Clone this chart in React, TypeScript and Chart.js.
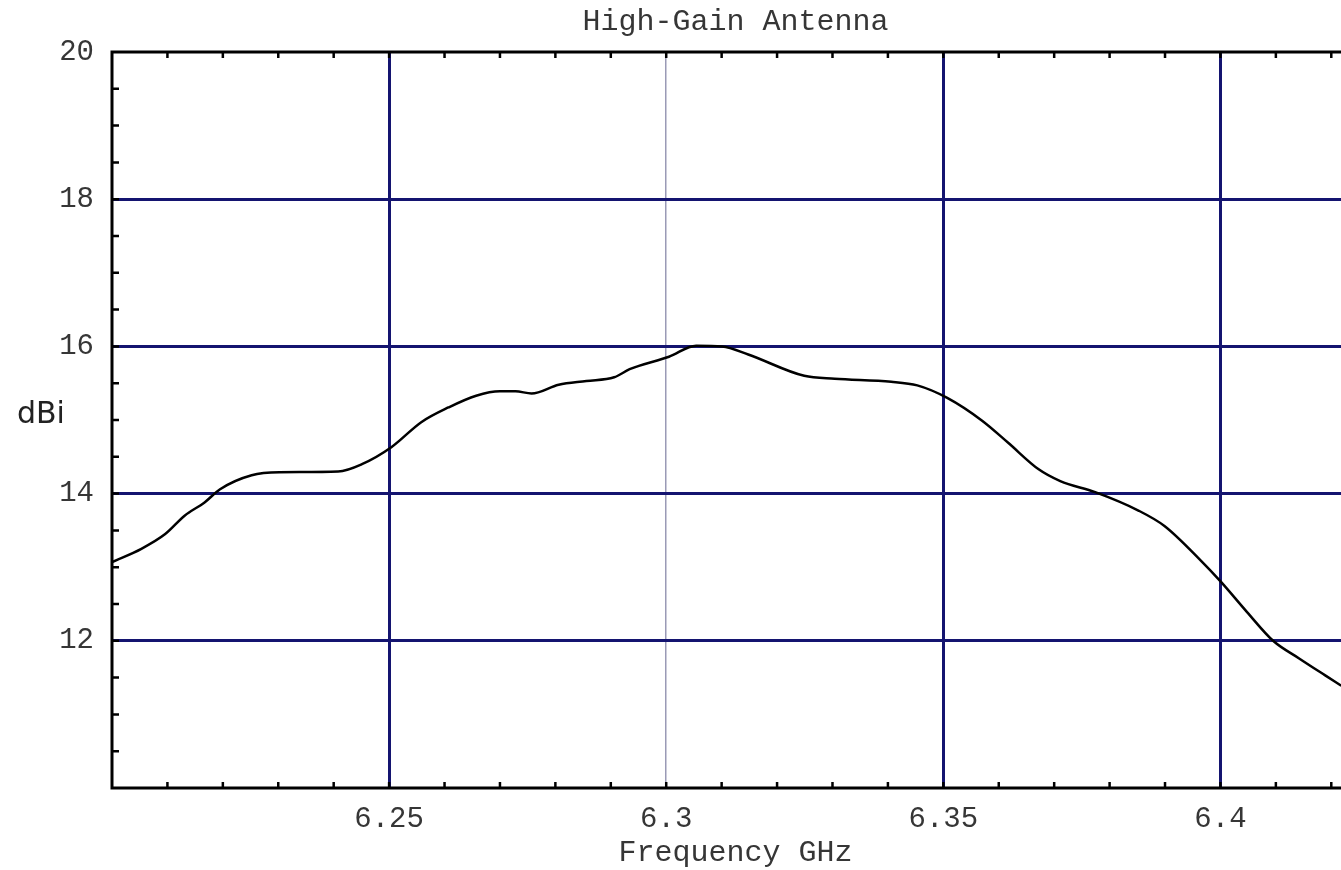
import React, { useEffect, useRef } from "react";
import { Chart, registerables } from "chart.js";

Chart.register(...registerables);

// ---- Data ----
const freqGHz = [
  6.2, 6.2053, 6.2096, 6.2131, 6.2167, 6.2195, 6.2252, 6.2302, 6.2408, 6.2451,
  6.2504, 6.2558, 6.2607, 6.2657, 6.27, 6.2728, 6.2757, 6.2806, 6.2856, 6.2906,
  6.2934, 6.3005, 6.3054, 6.3101, 6.3148, 6.3249, 6.3304, 6.3406, 6.3453, 6.3507,
  6.357, 6.3617, 6.3672, 6.3711, 6.3774, 6.3852, 6.3899, 6.3962, 6.4001, 6.4048,
  6.4095, 6.4142, 6.4189, 6.4218,
];
const gainDBi = [
  13.07, 13.25, 13.45, 13.7, 13.88, 14.06, 14.25, 14.29, 14.3, 14.4,
  14.63, 14.97, 15.17, 15.33, 15.39, 15.39, 15.36, 15.48, 15.53, 15.58,
  15.69, 15.86, 16.01, 16.0, 15.89, 15.6, 15.56, 15.52, 15.47, 15.3,
  14.99, 14.69, 14.33, 14.17, 14.02, 13.77, 13.56, 13.11, 12.8, 12.39,
  12.0, 11.76, 11.53, 11.39,
];
const xTicks = [6.25, 6.3, 6.35, 6.4];
const yTicks = [12, 14, 16, 18, 20];
const xRange = [6.2, 6.425];
const yRange = [10, 20];
const thinGridAt = 6.3;

const titleText = "High-Gain Antenna";
const xTitle = "Frequency GHz";
const yTitle = "dBi";

const MONO = '"Liberation Mono", "Courier New", monospace';
const NAVY = "#141470";
const TEXT = "#363636";

const framePlugin = {
  id: "frame",
  afterDatasetsDraw(chart: any) {
    const { ctx, chartArea, scales } = chart;
    const { left, top, right, bottom } = chartArea;
    const x = scales.x;
    const y = scales.y;
    ctx.save();
    ctx.strokeStyle = "#000";
    ctx.lineWidth = 3;
    ctx.beginPath();
    ctx.rect(left, top, right - left, bottom - top);
    ctx.stroke();
    // inward minor ticks
    ctx.lineWidth = 2.5;
    ctx.beginPath();
    const xSteps = Math.round((x.max - x.min) / 0.01);
    for (let i = 1; i <= xSteps; i++) {
      const px = x.getPixelForValue(x.min + i * 0.01);
      ctx.moveTo(px, top);
      ctx.lineTo(px, top + 6);
      ctx.moveTo(px, bottom);
      ctx.lineTo(px, bottom - 6);
    }
    const ySteps = Math.round((y.max - y.min) / 0.5);
    for (let i = 1; i < ySteps; i++) {
      const py = y.getPixelForValue(y.min + i * 0.5);
      ctx.moveTo(left, py);
      ctx.lineTo(left + 7, py);
    }
    ctx.stroke();
    // horizontal y-axis title
    ctx.fillStyle = "#222";
    ctx.font = '30px "DejaVu Sans", sans-serif';
    ctx.textBaseline = "alphabetic";
    ctx.textAlign = "left";
    ctx.fillText(yTitle, 17, 423);
    ctx.restore();
  },
};

export default function App() {
  const ref = useRef<HTMLCanvasElement>(null);

  useEffect(() => {
    if (!ref.current) return;
    const points = freqGHz.map((f, i) => ({ x: f, y: gainDBi[i] }));
    const chart = new Chart(ref.current, {
      type: "line",
      data: {
        datasets: [
          {
            data: points,
            borderColor: "#000",
            borderWidth: 2.5,
            pointRadius: 0,
            cubicInterpolationMode: "monotone",
            fill: false,
          },
        ],
      },
      options: {
        responsive: false,
        animation: false,
        devicePixelRatio: 1,
        layout: { padding: 0 },
        plugins: {
          legend: { display: false },
          tooltip: { enabled: false },
          title: {
            display: true,
            text: titleText,
            color: TEXT,
            fullSize: false,
            font: { family: MONO, size: 30, weight: "normal", lineHeight: 1 },
            padding: { top: 7, bottom: 15 },
          },
        },
        scales: {
          x: {
            type: "linear",
            position: "bottom",
            min: xRange[0],
            max: xRange[1],
            afterBuildTicks: (s: any) => {
              s.ticks = xTicks.map((v) => ({ value: v }));
            },
            afterFit: (s: any) => {
              s.height = 82;
            },
            ticks: {
              autoSkip: false,
              maxRotation: 0,
              padding: 14,
              color: TEXT,
              font: { family: MONO, size: 29 },
              callback: (v: any) => String(v),
            },
            grid: {
              drawTicks: false,
              color: (c: any) =>
                c.tick && Math.abs(c.tick.value - thinGridAt) < 1e-9 ? "#9a9ab6" : NAVY,
              lineWidth: (c: any) =>
                c.tick && Math.abs(c.tick.value - thinGridAt) < 1e-9 ? 1.5 : 3,
            },
            border: { display: false },
            title: {
              display: true,
              text: xTitle,
              color: TEXT,
              font: { family: MONO, size: 30, lineHeight: 1.1 },
              padding: { top: 0, bottom: 0 },
            },
          },
          y: {
            type: "linear",
            position: "left",
            min: yRange[0],
            max: yRange[1],
            afterBuildTicks: (s: any) => {
              s.ticks = yTicks.map((v) => ({ value: v }));
            },
            afterFit: (s: any) => {
              s.width = 112;
            },
            ticks: {
              padding: 18,
              color: TEXT,
              font: { family: MONO, size: 29 },
              callback: (v: any) => String(v),
            },
            grid: {
              drawTicks: false,
              color: (c: any) =>
                c.tick && c.tick.value === yRange[1] ? "rgba(0,0,0,0)" : NAVY,
              lineWidth: 3,
            },
            border: { display: false },
          },
        },
      },
      plugins: [framePlugin],
    } as any);
    return () => chart.destroy();
  }, []);

  return (
    <div
      style={{
        position: "fixed",
        left: 0,
        top: 0,
        width: 1341,
        height: 870,
        overflow: "hidden",
        background: "#fff",
      }}
    >
      <canvas
        ref={ref}
        width={1359}
        height={870}
        style={{ display: "block", width: 1359, height: 870 }}
      />
    </div>
  );
}
